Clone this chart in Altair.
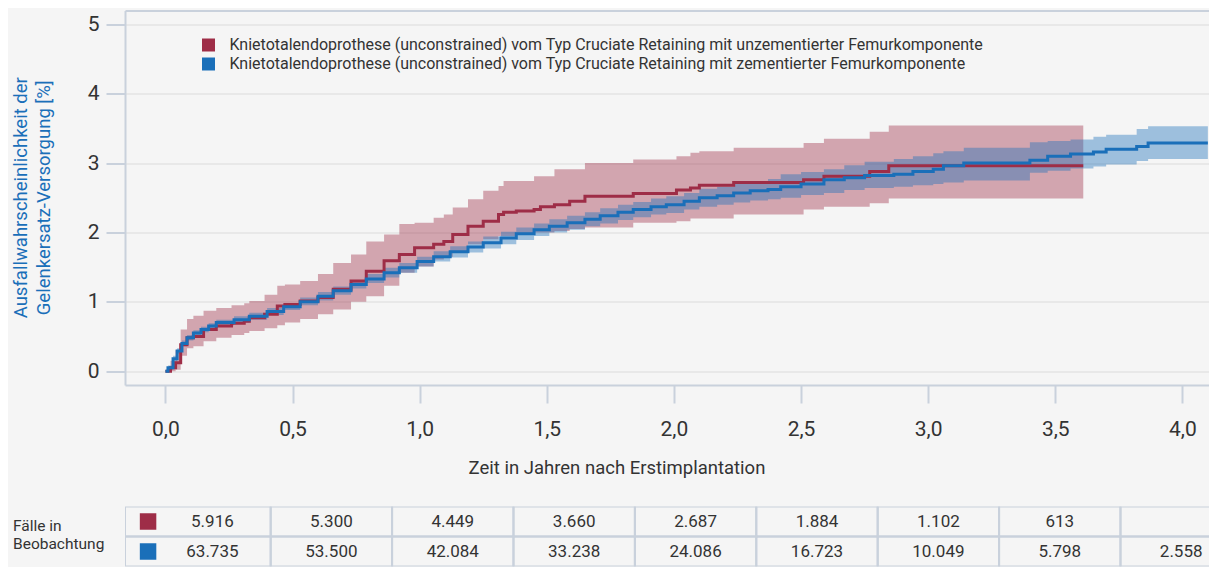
import altair as alt
import pandas as pd

# ---------------- data ----------------
S1 = "Knietotalendoprothese (unconstrained) vom Typ Cruciate Retaining mit unzementierter Femurkomponente"
S2 = "Knietotalendoprothese (unconstrained) vom Typ Cruciate Retaining mit zementierter Femurkomponente"
series_names = [S1, S2]

# unzementiert (red): time [years], estimate, lower CI, upper CI  [%]
red_t = [0.000, 0.020, 0.040, 0.060, 0.085, 0.110, 0.150, 0.200, 0.260, 0.310,
         0.330, 0.390, 0.440, 0.470, 0.530, 0.600, 0.660, 0.730, 0.790, 0.860,
         0.920, 0.980, 1.055, 1.095, 1.130, 1.190, 1.250, 1.310, 1.330, 1.380,
         1.450, 1.475, 1.530, 1.590, 1.650, 1.840, 2.010, 2.065, 2.100, 2.235,
         2.510, 2.590, 2.770, 2.845, 3.610]
red_v = [0.00, 0.05, 0.12, 0.38, 0.48, 0.50, 0.60, 0.65, 0.69, 0.72,
         0.77, 0.82, 0.94, 0.96, 1.01, 1.06, 1.18, 1.30, 1.44, 1.59,
         1.68, 1.78, 1.83, 1.87, 1.97, 2.09, 2.16, 2.26, 2.29, 2.31,
         2.33, 2.37, 2.40, 2.45, 2.52, 2.56, 2.61, 2.64, 2.68, 2.72,
         2.76, 2.81, 2.88, 2.96, 2.96]
red_lo = [0.00, 0.00, 0.02, 0.22, 0.33, 0.36, 0.43, 0.48, 0.52, 0.55,
          0.58, 0.62, 0.66, 0.70, 0.75, 0.82, 0.89, 1.00, 1.08, 1.23,
          1.42, 1.51, 1.61, 1.65, 1.73, 1.83, 1.90, 1.95, 1.95, 1.97,
          2.00, 2.00, 2.02, 2.05, 2.07, 2.14, 2.16, 2.20, 2.20, 2.26,
          2.33, 2.37, 2.42, 2.49, 2.49]
red_hi = [0.00, 0.15, 0.30, 0.60, 0.75, 0.80, 0.87, 0.91, 0.95, 0.98,
          1.01, 1.10, 1.23, 1.25, 1.30, 1.40, 1.56, 1.68, 1.87, 1.97,
          2.12, 2.14, 2.21, 2.26, 2.36, 2.48, 2.60, 2.67, 2.74, 2.74,
          2.81, 2.81, 2.91, 2.91, 3.00, 3.05, 3.10, 3.15, 3.17, 3.22,
          3.29, 3.35, 3.45, 3.54, 3.54]

# zementiert (blue)
blue_t = [0.000, 0.010, 0.030, 0.046, 0.065, 0.085, 0.110, 0.140, 0.170, 0.200,
          0.270, 0.330, 0.400, 0.465, 0.530, 0.600, 0.660, 0.730, 0.790, 0.860,
          0.920, 0.990, 1.055, 1.120, 1.190, 1.250, 1.320, 1.380, 1.450, 1.510,
          1.580, 1.650, 1.710, 1.780, 1.840, 1.910, 1.970, 2.040, 2.100, 2.170,
          2.235, 2.300, 2.370, 2.420, 2.500, 2.590, 2.670, 2.750, 2.865, 2.940,
          3.020, 3.060, 3.140, 3.400, 3.470, 3.560, 3.650, 3.700, 3.820, 3.865,
          4.100]
blue_v = [0.00, 0.05, 0.18, 0.29, 0.40, 0.48, 0.55, 0.60, 0.65, 0.70,
          0.74, 0.79, 0.86, 0.93, 1.00, 1.08, 1.16, 1.25, 1.33, 1.42,
          1.49, 1.58, 1.65, 1.72, 1.79, 1.85, 1.92, 1.98, 2.04, 2.09,
          2.14, 2.19, 2.24, 2.29, 2.33, 2.37, 2.40, 2.45, 2.50, 2.53,
          2.57, 2.60, 2.62, 2.66, 2.70, 2.76, 2.79, 2.82, 2.84, 2.88,
          2.91, 2.96, 3.00, 3.04, 3.10, 3.13, 3.16, 3.20, 3.24, 3.29,
          3.29]
blue_lo = [0.00, 0.02, 0.14, 0.25, 0.36, 0.44, 0.51, 0.56, 0.61, 0.66,
           0.70, 0.74, 0.81, 0.88, 0.95, 1.02, 1.10, 1.19, 1.27, 1.35,
           1.42, 1.51, 1.58, 1.64, 1.71, 1.77, 1.83, 1.89, 1.95, 2.00,
           2.04, 2.09, 2.13, 2.18, 2.22, 2.26, 2.28, 2.33, 2.37, 2.40,
           2.43, 2.46, 2.48, 2.50, 2.54, 2.57, 2.61, 2.64, 2.66, 2.68,
           2.70, 2.72, 2.75, 2.86, 2.89, 2.92, 2.95, 2.98, 3.03, 3.06,
           3.06]
blue_hi = [0.00, 0.08, 0.22, 0.33, 0.44, 0.52, 0.59, 0.64, 0.69, 0.74,
           0.79, 0.84, 0.91, 0.98, 1.06, 1.14, 1.22, 1.31, 1.40, 1.49,
           1.56, 1.65, 1.73, 1.80, 1.87, 1.94, 2.01, 2.07, 2.13, 2.19,
           2.24, 2.29, 2.35, 2.40, 2.44, 2.49, 2.52, 2.57, 2.63, 2.66,
           2.71, 2.74, 2.77, 2.84, 2.87, 2.91, 2.97, 3.02, 3.06, 3.10,
           3.14, 3.17, 3.22, 3.30, 3.32, 3.34, 3.38, 3.41, 3.49, 3.53,
           3.53]

x_tick_values = [0.0, 0.5, 1.0, 1.5, 2.0, 2.5, 3.0, 3.5, 4.0]
x_tick_labels = ["0,0", "0,5", "1,0", "1,5", "2,0", "2,5", "3,0", "3,5", "4,0"]
y_tick_values = [0, 1, 2, 3, 4, 5]

# Fälle in Beobachtung
cases_red = ["5.916", "5.300", "4.449", "3.660", "2.687", "1.884", "1.102", "613", ""]
cases_blue = ["63.735", "53.500", "42.084", "33.238", "24.086", "16.723", "10.049", "5.798", "2.558"]

# ---------------- style / layout ----------------
RED = "#9e2d47"
BLUE = "#1a6fb9"
TXT = "#333333"
FRAME = "#c9d1dc"
GRID = "#e3e3e3"
BG = "#f5f5f5"
FONT = "Roboto"

PLOT_W = 1084
PLOT_H = 374.5
PX_PER_YEAR = 254.25
PX_PER_COL = 121.4
ROW_H = 30

x_min = -0.159
x_max = x_min + PLOT_W / PX_PER_YEAR

red_df = pd.DataFrame({"t": red_t, "v": red_v, "lo": red_lo, "hi": red_hi, "serie": S1})
blue_df = pd.DataFrame({"t": blue_t, "v": blue_v, "lo": blue_lo, "hi": blue_hi, "serie": S2})

xsc = alt.Scale(domain=[x_min, x_max], nice=False, zero=False)
ysc = alt.Scale(domain=[-0.2, 5.2], nice=False, zero=False)
csc = alt.Scale(domain=series_names, range=[RED, BLUE])

label_expr = "[" + ",".join("'%s'" % l for l in x_tick_labels) + "][round(datum.value*2)]"

x_axis = alt.Axis(values=x_tick_values, labelExpr=label_expr,
                  title="Zeit in Jahren nach Erstimplantation",
                  tickSize=18, tickColor=FRAME, tickWidth=2, labelPadding=15,
                  labelFontSize=21, labelColor=TXT, labelFont=FONT,
                  domain=True, domainColor=FRAME, domainWidth=2, grid=False,
                  titleFont=FONT, titleFontSize=18.5, titleFontWeight="normal",
                  titleColor=TXT, titleX=491.5, titleY=82, titleBaseline="middle",
                  titleAlign="center")
x_top_axis = alt.Axis(orient="top", labels=False, ticks=False, grid=False, title=None,
                      domain=True, domainColor=FRAME, domainWidth=2)
y_axis = alt.Axis(values=y_tick_values, format="d",
                  title=["Ausfallwahrscheinlichkeit der", "Gelenkersatz-Versorgung [%]"],
                  tickSize=19, tickColor=FRAME, tickWidth=2, labelPadding=7,
                  labelFontSize=21, labelColor=TXT, labelFont=FONT,
                  domain=True, domainColor=FRAME, domainWidth=2,
                  grid=True, gridColor=GRID, gridWidth=1.5,
                  titleFont=FONT, titleFontSize=18.5, titleFontWeight="normal",
                  titleColor=BLUE, titleX=-104.5, titleY=PLOT_H / 2 - 0.5,
                  titleAngle=270, titleAlign="center", titleBaseline="middle",
                  titleLineHeight=22.6)

legend = alt.Legend(orient="none", legendX=75.5, legendY=26.5, title=None,
                    symbolType="square", symbolSize=169, symbolOpacity=1,
                    symbolStrokeWidth=0, labelFontSize=16, labelFont=FONT,
                    labelColor=TXT, labelLimit=2000, labelOffset=13,
                    rowPadding=3, padding=0, direction="vertical")


def band(df, xaxis, with_legend):
    return alt.Chart(df).mark_area(interpolate="step-after", opacity=0.4, clip=True).encode(
        x=alt.X("t:Q", scale=xsc, axis=xaxis),
        y=alt.Y("lo:Q", scale=ysc, axis=y_axis),
        y2="hi:Q",
        color=alt.Color("serie:N", scale=csc, legend=legend if with_legend else None),
    )


def line(df, xaxis):
    return alt.Chart(df).mark_line(interpolate="step-after", strokeWidth=3, clip=True).encode(
        x=alt.X("t:Q", scale=xsc, axis=xaxis),
        y=alt.Y("v:Q", scale=ysc, axis=y_axis),
        color=alt.Color("serie:N", scale=csc, legend=None),
    )


main = alt.layer(
    band(red_df, x_top_axis, True),
    band(blue_df, None, False),
    line(red_df, x_axis),
    line(blue_df, None),
).resolve_axis(x="independent").properties(
    width=PLOT_W, height=PLOT_H,
    view=alt.ViewBackground(strokeWidth=0, stroke="transparent"),
)

# ---------------- table ----------------
n_cols = len(cases_red)
col_units = [1.2] + [1.0] * (n_cols - 1)
edges = [0.0]
for w in col_units:
    edges.append(edges[-1] + w)
rows = []
for r, vals in enumerate([cases_red, cases_blue]):
    for c in range(n_cols):
        xc = 0.72 if c == 0 else edges[c] + 0.5
        rows.append({"r0": r, "r1": r + 1, "rc": r + 0.5, "x0": edges[c], "x1": edges[c + 1],
                     "xc": xc, "txt": vals[c], "serie": series_names[r]})
tdf = pd.DataFrame(rows)
sq_df = pd.DataFrame({"xs": [0.19, 0.19], "rc": [0.5, 1.5], "serie": series_names})

tx = alt.Scale(domain=[0, PLOT_W / PX_PER_COL], nice=False, zero=False)
ty = alt.Scale(domain=[0, 2], nice=False, zero=False, reverse=True)
t_y_axis = alt.Axis(title=["Fälle in", "Beobachtung"], labels=False, ticks=False, domain=False,
                    grid=False, titleAngle=0, titleAlign="left", titleBaseline="middle",
                    titleX=-112.5, titleY=18.5, titleFontSize=15.5, titleFont=FONT,
                    titleFontWeight="normal", titleColor=TXT, titleLineHeight=18.3)

cells = alt.Chart(tdf).mark_rect(fillOpacity=0, stroke=FRAME, strokeWidth=2, clip=True).encode(
    x=alt.X("x0:Q", scale=tx, axis=None), x2="x1:Q",
    y=alt.Y("r0:Q", scale=ty, axis=t_y_axis), y2="r1:Q",
)
squares = alt.Chart(sq_df).mark_square(size=272, opacity=1, filled=True).encode(
    x=alt.X("xs:Q", scale=tx, axis=None),
    y=alt.Y("rc:Q", scale=ty, axis=t_y_axis),
    color=alt.Color("serie:N", scale=csc, legend=None),
)
texts = alt.Chart(tdf).mark_text(fontSize=17, font=FONT, color=TXT, align="center",
                                 baseline="middle", clip=True).encode(
    x=alt.X("xc:Q", scale=tx, axis=None),
    y=alt.Y("rc:Q", scale=ty, axis=t_y_axis),
    text="txt:N",
)
table = alt.layer(cells, squares, texts).properties(
    width=PLOT_W, height=2 * ROW_H,
    view=alt.ViewBackground(strokeWidth=0, stroke="transparent"),
)

chart = alt.vconcat(main, table, spacing=30).properties(
    padding={"left": 3, "top": 2.5, "right": 0, "bottom": 0},
    background=BG,
).configure_view(strokeWidth=0, stroke="transparent")

chart.save("out.html", embed_options={"renderer": "svg", "actions": False})
